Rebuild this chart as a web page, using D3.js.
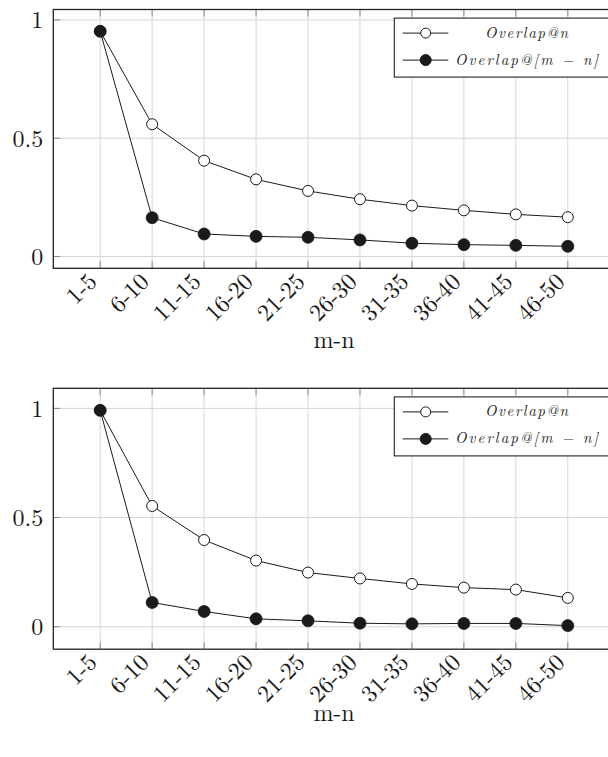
<!DOCTYPE html>
<html>
<head>
<meta charset="utf-8">
<script src="https://cdn.jsdelivr.net/npm/d3@7"></script>
<style>
  html, body { margin: 0; padding: 0; background: #fff; }
  svg { display: block; }
</style>
</head>
<body>
<svg id="chart" width="608" height="757"></svg>
<script>
// ---- data ----
const categories = ["1-5", "6-10", "11-15", "16-20", "21-25", "26-30", "31-35", "36-40", "41-45", "46-50"];
const topOverlapN  = [0.952, 0.559, 0.405, 0.326, 0.277, 0.242, 0.215, 0.195, 0.178, 0.166];
const topOverlapMN = [0.952, 0.164, 0.095, 0.085, 0.081, 0.070, 0.056, 0.050, 0.047, 0.043];
const botOverlapN  = [0.991, 0.553, 0.397, 0.303, 0.248, 0.221, 0.196, 0.179, 0.170, 0.132];
const botOverlapMN = [0.991, 0.111, 0.070, 0.036, 0.027, 0.016, 0.013, 0.015, 0.015, 0.005];
const yTickValues = [0, 0.5, 1];
const yTickLabels = ["0", "0.5", "1"];
const legendLabels = ["Overlap@n", "Overlap@[m \u2212 n]"];
const xAxisTitle = "m-n";

const FONT = '"Latin Modern Roman", "Liberation Serif", serif';
const svg = d3.select("#chart");
const ink = "#1a1a1a";

function drawChart(cfg) {
  const g = svg.append("g");
  const left = 53.3, right = 614.8;
  const top = cfg.top, bottom = cfg.bottom;

  const x = d3.scalePoint().domain(categories).range([100.2, 567.8]);
  const y = d3.scaleLinear().domain(cfg.yDomain).range([bottom, top]);

  // grid
  g.append("g").selectAll("line").data(categories).join("line")
    .attr("x1", d => x(d)).attr("x2", d => x(d))
    .attr("y1", top).attr("y2", bottom)
    .attr("stroke", "#d6d6d6").attr("stroke-width", 1);
  g.append("g").selectAll("line").data(yTickValues).join("line")
    .attr("x1", left).attr("x2", right)
    .attr("y1", d => y(d)).attr("y2", d => y(d))
    .attr("stroke", "#d6d6d6").attr("stroke-width", 1);

  // tick marks (inside, on all sides)
  const tl = 7;
  const tk = g.append("g").attr("stroke", "#8a8a8a").attr("stroke-width", 1);
  tk.append("g").selectAll("line").data(categories).join("line")
    .attr("x1", d => x(d)).attr("x2", d => x(d)).attr("y1", bottom).attr("y2", bottom - tl);
  tk.append("g").selectAll("line").data(categories).join("line")
    .attr("x1", d => x(d)).attr("x2", d => x(d)).attr("y1", top).attr("y2", top + tl);
  tk.append("g").selectAll("line").data(yTickValues).join("line")
    .attr("x1", left).attr("x2", left + tl).attr("y1", d => y(d)).attr("y2", d => y(d));
  tk.append("g").selectAll("line").data(yTickValues).join("line")
    .attr("x1", right).attr("x2", right - tl).attr("y1", d => y(d)).attr("y2", d => y(d));

  // y axis labels via d3 axis
  const yAxis = d3.axisLeft(y).tickValues(yTickValues)
    .tickFormat((d, i) => yTickLabels[i]).tickSize(0).tickPadding(10);
  const ya = g.append("g").attr("transform", `translate(${left},0)`).call(yAxis);
  ya.select(".domain").remove();
  ya.selectAll("text").style("font-family", FONT).style("font-size", "24px")
    .style("fill", ink).attr("dy", "0.33em");

  // x axis labels via d3 axis
  const xAxis = d3.axisBottom(x).tickSize(0).tickPadding(0);
  const xa = g.append("g").attr("transform", `translate(0,${bottom})`).call(xAxis);
  xa.select(".domain").remove();
  xa.selectAll(".tick text")
    .style("font-family", FONT).style("font-size", "24px").style("fill", ink)
    .attr("text-anchor", "end")
    .attr("y", 0).attr("dy", 0)
    .attr("transform", "translate(-8,9) rotate(-45) translate(0,8)");

  // frame
  g.append("rect").attr("x", left).attr("y", top)
    .attr("width", right - left).attr("height", bottom - top)
    .attr("fill", "none").attr("stroke", "#222").attr("stroke-width", 1.3);

  // series
  const line = d3.line().x((d, i) => x(categories[i])).y(d => y(d));
  g.append("path").datum(cfg.mn).attr("d", line)
    .attr("fill", "none").attr("stroke", ink).attr("stroke-width", 1);
  g.append("path").datum(cfg.n).attr("d", line)
    .attr("fill", "none").attr("stroke", ink).attr("stroke-width", 1);
  g.append("g").selectAll("circle").data(cfg.n).join("circle")
    .attr("cx", (d, i) => x(categories[i])).attr("cy", d => y(d)).attr("r", 5.5)
    .attr("fill", "#fff").attr("stroke", ink).attr("stroke-width", 1);
  g.append("g").selectAll("circle").data(cfg.mn).join("circle")
    .attr("cx", (d, i) => x(categories[i])).attr("cy", d => y(d)).attr("r", 6)
    .attr("fill", ink).attr("stroke", ink).attr("stroke-width", 0.8);

  // legend
  const lt = top + 8.6;
  const lg = g.append("g");
  lg.append("rect").attr("x", 394.3).attr("y", lt).attr("width", 230).attr("height", 59)
    .attr("fill", "#fff").attr("stroke", "#222").attr("stroke-width", 1.1);
  const rows = [lt + 15, lt + 42];
  [0, 1].forEach(k => {
    lg.append("line").attr("x1", 402.7).attr("x2", 448.3).attr("y1", rows[k]).attr("y2", rows[k])
      .attr("stroke", ink).attr("stroke-width", 1);
    lg.append("circle").attr("cx", 425.7).attr("cy", rows[k]).attr("r", k === 0 ? 5 : 5.5)
      .attr("fill", k === 0 ? "#fff" : ink).attr("stroke", ink).attr("stroke-width", 1);
  });
  lg.append("text").attr("x", 526.5).attr("y", rows[0] + 4.5).attr("text-anchor", "middle")
    .style("font-family", FONT).style("font-style", "italic").style("font-size", "15px").style("fill", ink)
    .attr("textLength", 83).attr("lengthAdjust", "spacing").text(legendLabels[0]);
  lg.append("text").attr("x", 455).attr("y", rows[1] + 4.5).attr("text-anchor", "start")
    .style("font-family", FONT).style("font-style", "italic").style("font-size", "15px").style("fill", ink)
    .attr("textLength", 143).attr("lengthAdjust", "spacing").text(legendLabels[1]);

  // x axis title
  g.append("text").attr("x", (left + right) / 2).attr("y", cfg.titleY)
    .attr("text-anchor", "middle")
    .style("font-family", FONT).style("font-size", "24px").style("fill", ink).text(xAxisTitle);
}

drawChart({ top: 9.5, bottom: 268.3, yDomain: [-0.05, 1.044], n: topOverlapN, mn: topOverlapMN, titleY: 348 });
drawChart({ top: 388.3, bottom: 649.2, yDomain: [-0.103, 1.092], n: botOverlapN, mn: botOverlapMN, titleY: 721 });
</script>
</body>
</html>
